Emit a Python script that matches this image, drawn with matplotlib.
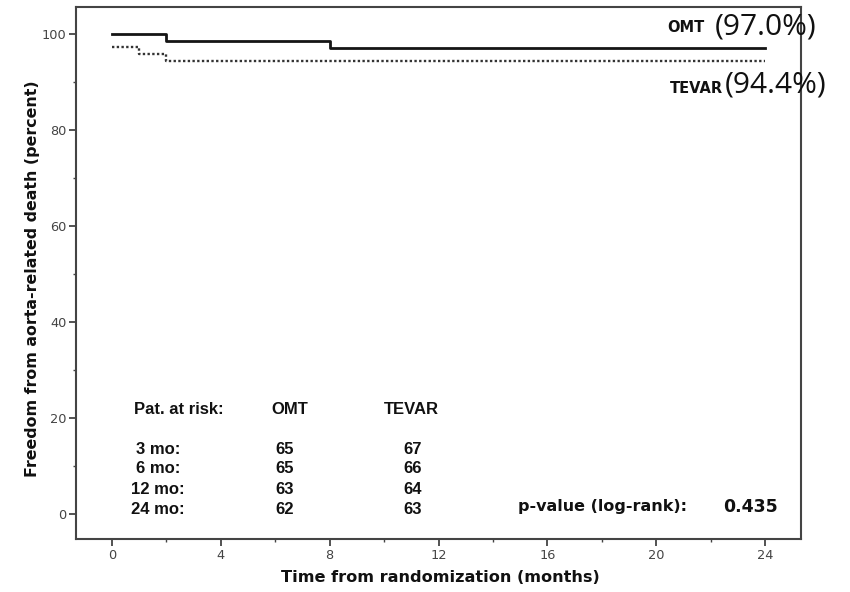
import matplotlib

matplotlib.use("Agg")
import matplotlib.pyplot as plt

# Kaplan-Meier step data (months, percent free from aorta-related death)
omt_months = [0, 2, 8, 24]
omt_freedom = [100.0, 98.5, 97.0, 97.0]
tevar_months = [0, 1, 2, 24]
tevar_freedom = [97.2, 95.8, 94.4, 94.4]

# patients at risk table
risk_rows = ["3 mo:", "6 mo:", "12 mo:", "24 mo:"]
risk_omt = [65, 65, 63, 62]
risk_tevar = [67, 66, 64, 63]

p_value = "0.435"
x_ticks = [0, 4, 8, 12, 16, 20, 24]
y_ticks = [0, 20, 40, 60, 80, 100]

fig = plt.figure(figsize=(8.5, 5.92), dpi=100)
ax = fig.add_axes([0.0894, 0.0895, 0.853, 0.8985])

ax.step(omt_months, omt_freedom, where="post", color="#151515", linewidth=2.0)
ax.step(tevar_months, tevar_freedom, where="post", color="#333333",
        linewidth=1.7, linestyle=(0, (1, 1.0)))

ax.set_xlim(-1.32, 25.32)
ax.set_ylim(-5.2, 105.6)
ax.set_xticks(x_ticks)
ax.set_xticks([2, 6, 10, 14, 18, 22], minor=True)
ax.set_yticks(y_ticks)
ax.set_yticks([10, 30, 50, 70, 90], minor=True)
ax.tick_params(which="major", direction="out", length=5, width=1.3,
               color="#444444", labelsize=9.3, labelcolor="#444444", pad=2)
ax.tick_params(which="minor", direction="out", length=2.5, width=1.0,
               color="#444444")
for spine in ax.spines.values():
    spine.set_linewidth(1.5)
    spine.set_color("#444444")

ax.set_xlabel("Time from randomization (months)", fontsize=11.6,
              fontweight="bold", color="#111111")
ax.xaxis.set_label_coords(0.502, -0.058)
ax.set_ylabel("Freedom from aorta-related death (percent)", fontsize=11.4,
              fontweight="bold", color="#111111")
ax.yaxis.set_label_coords(-0.050, 0.489)

# curve labels with final estimates
ax.text(20.4, 101.4, "OMT", fontsize=10.5, fontweight="bold",
        va="center", color="#111111")
ax.text(22.15, 101.4, f"({omt_freedom[-1]:.1f}%)", fontsize=21.5,
        family="Open Sans", va="center", color="#111111", clip_on=False)
ax.text(20.5, 88.7, "TEVAR", fontsize=10.5, fontweight="bold",
        va="center", color="#111111")
ax.text(22.5, 89.4, f"({tevar_freedom[-1]:.1f}%)", fontsize=21.5,
        family="Open Sans", va="center", color="#111111", clip_on=False)

# patients at risk
table_font = dict(fontsize=12, fontweight="bold", family="Liberation Sans",
                  color="#111111", va="center", ha="center")
ax.text(2.45, 21.7, "Pat. at risk:", **table_font)
ax.text(6.55, 21.7, "OMT", **table_font)
ax.text(11.0, 21.7, "TEVAR", **table_font)
row_y = [13.5, 9.4, 5.2, 1.0]
for label, n_omt, n_tevar, y in zip(risk_rows, risk_omt, risk_tevar, row_y):
    ax.text(1.7, y, label, **table_font)
    ax.text(6.35, y, str(n_omt), **table_font)
    ax.text(11.05, y, str(n_tevar), **table_font)

ax.text(14.92, 1.5, "p-value (log-rank):", fontsize=11.5, fontweight="bold",
        va="center", ha="left", color="#111111")
ax.text(22.45, 1.5, p_value, fontsize=12.5, fontweight="bold",
        va="center", ha="left", color="#111111")

fig.savefig("out.png", dpi=100)
